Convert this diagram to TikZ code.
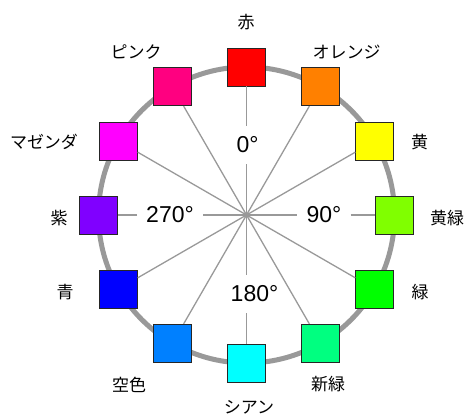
\documentclass[tikz,border=0pt]{standalone}
\usepackage{fontspec}
\setmainfont{Liberation Sans}
\newfontfamily\jpfont{Noto Sans CJK JP}
\usepackage{xcolor}
\usepackage{tikz}

\definecolor{hueRed}{RGB}{255,0,0}
\definecolor{hueOrange}{RGB}{255,128,0}
\definecolor{hueYellow}{RGB}{255,255,0}
\definecolor{hueLime}{RGB}{128,255,0}
\definecolor{hueGreen}{RGB}{0,255,0}
\definecolor{hueSpring}{RGB}{0,255,128}
\definecolor{hueCyan}{RGB}{0,255,255}
\definecolor{hueAzure}{RGB}{0,128,255}
\definecolor{hueBlue}{RGB}{0,0,255}
\definecolor{hueViolet}{RGB}{128,0,255}
\definecolor{hueMagenta}{RGB}{255,0,255}
\definecolor{hueRose}{RGB}{255,0,128}
\definecolor{ringgray}{RGB}{153,153,153}

\begin{document}
\begin{tikzpicture}[x=1pt,y=1pt,
    swatch/.style={draw=black!85,line width=0.8pt,minimum size=38pt,inner sep=0pt},
    huename/.style={font=\jpfont\fontsize{17}{17}\selectfont,inner sep=0pt},
    degree/.style={font=\fontsize{23}{23}\selectfont,inner xsep=9pt,inner ysep=11pt},
    spoke/.style={ringgray,line width=1.3pt},
    ring/.style={ringgray,line width=5pt}]
    \useasboundingbox (0,0) rectangle (467,416);
    \coordinate (c) at (246.5,201);

    % Ring
    \draw[ring] (c) circle (148pt);

    % Color squares
    \node[swatch,fill=hueRed]     (s0)   at ([shift={(90:148)}]c)  {};
    \node[swatch,fill=hueOrange]  (s30)  at ([shift={(60:148)}]c)  {};
    \node[swatch,fill=hueYellow]  (s60)  at ([shift={(30:148)}]c)  {};
    \node[swatch,fill=hueLime]    (s90)  at ([shift={(0:148)}]c)   {};
    \node[swatch,fill=hueGreen]   (s120) at ([shift={(-30:148)}]c) {};
    \node[swatch,fill=hueSpring]  (s150) at ([shift={(-60:148)}]c) {};
    \node[swatch,fill=hueCyan]    (s180) at ([shift={(-90:148)}]c) {};
    \node[swatch,fill=hueAzure]   (s210) at ([shift={(-120:148)}]c) {};
    \node[swatch,fill=hueBlue]    (s240) at ([shift={(-150:148)}]c) {};
    \node[swatch,fill=hueViolet]  (s270) at ([shift={(180:148)}]c) {};
    \node[swatch,fill=hueMagenta] (s300) at ([shift={(150:148)}]c) {};
    \node[swatch,fill=hueRose]    (s330) at ([shift={(120:148)}]c) {};

    % Degree marks
    \node[degree] (d0)   at (247.5,271)   {0°};
    \node[degree] (d90)  at (324,201)     {90°};
    \node[degree] (d180) at (254.5,122)   {180°};
    \node[degree] (d270) at (170,201)     {270°};

    % Spokes
    \draw[spoke] (c) -- (d0.south -| c) (d0.north -| c) -- (s0);
    \draw[spoke] (c) -- (d90.west |- c) (d90.east |- c) -- (s90);
    \draw[spoke] (c) -- (d180.north -| c) (d180.south -| c) -- (s180);
    \draw[spoke] (c) -- (d270.east |- c) (d270.west |- c) -- (s270);
    \draw[spoke] (c) -- (s30);
    \draw[spoke] (c) -- (s60);
    \draw[spoke] (c) -- (s120);
    \draw[spoke] (c) -- (s150);
    \draw[spoke] (c) -- (s210);
    \draw[spoke] (c) -- (s240);
    \draw[spoke] (c) -- (s300);
    \draw[spoke] (c) -- (s330);

    % Color names
    \node[huename] (n0)   at (246,394)   {赤};
    \node[huename] (n30)  at (346.5,364) {オレンジ};
    \node[huename] (n60)  at (419.5,274) {黄};
    \node[huename] (n90)  at (447,197.5) {黄緑};
    \node[huename] (n120) at (420,124)   {緑};
    \node[huename] (n150) at (328,32)    {新緑};
    \node[huename] (n180) at (249,9)     {シアン};
    \node[huename] (n210) at (129,31.5)  {空色};
    \node[huename] (n240) at (65,123.5)  {青};
    \node[huename] (n270) at (59,197.5)  {紫};
    \node[huename] (n300) at (44,274)    {マゼンダ};
    \node[huename] (n330) at (136,364.5) {ピンク};
\end{tikzpicture}
\end{document}
